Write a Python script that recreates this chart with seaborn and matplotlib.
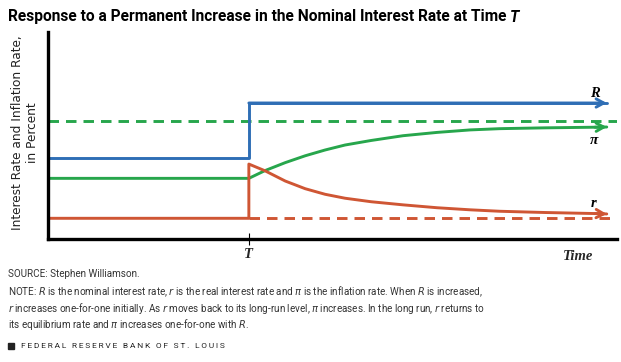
import numpy as np
import pandas as pd
import matplotlib
matplotlib.use("Agg")
import matplotlib.pyplot as plt
import seaborn as sns

# ---- data ----
T = 35.3
t_end = 98.2
R_time = [0, T, T, t_end]
R_vals = [3.92, 3.92, 6.57, 6.57]

pi_time = [0, T, 38.1, 41.7, 45.2, 48.7, 52.2, 56.8, 62.4, 68.4, 74.2, 79.4, 87.3, 96.1, 98.2]
pi_vals = [2.93, 2.93, 3.30, 3.69, 4.02, 4.30, 4.54, 4.76, 4.99, 5.15, 5.27, 5.33, 5.37, 5.40, 5.41]

r_time = [0, T, T, 38.1, 41.7, 45.2, 48.7, 52.2, 56.8, 62.4, 68.4, 74.2, 79.4, 87.3, 96.1, 98.2]
r_vals = [1.0, 1.0, 3.62, 3.30, 2.80, 2.43, 2.16, 1.97, 1.80, 1.65, 1.51, 1.41, 1.34, 1.28, 1.23, 1.21]

pi_long_time = [0, 100]
pi_long_vals = [5.68, 5.68]
r_long_time = [T, 100]
r_long_vals = [1.0, 1.0]

title = "Response to a Permanent Increase in the Nominal Interest Rate at Time "
ylabel = "Interest Rate and Inflation Rate,\nin Percent"

BLUE = "#2F6EB5"
GREEN = "#27A64C"
RED = "#CF5634"

sns.set_style("white")
plt.rcParams["font.family"] = ["DejaVu Sans"]

fig = plt.figure(figsize=(6.21, 3.62), dpi=100)
ax = fig.add_axes([48/621, 1-239/362, (617-48)/621, (239-32)/362])

lw = 2.1
def series(t, v):
    return pd.DataFrame({"t": t, "v": v})

sns.lineplot(data=series(pi_long_time, pi_long_vals), x="t", y="v", ax=ax, color=GREEN,
             lw=lw, estimator=None, sort=False, linestyle=(0, (3.6, 2.4)))
sns.lineplot(data=series(r_long_time, r_long_vals), x="t", y="v", ax=ax, color=RED,
             lw=lw, estimator=None, sort=False, linestyle=(0, (3.6, 2.4)))
sns.lineplot(data=series(R_time, R_vals), x="t", y="v", ax=ax, color=BLUE, lw=lw,
             estimator=None, sort=False)
sns.lineplot(data=series(pi_time, pi_vals), x="t", y="v", ax=ax, color=GREEN, lw=lw,
             estimator=None, sort=False)
sns.lineplot(data=series(r_time, r_vals), x="t", y="v", ax=ax, color=RED, lw=lw,
             estimator=None, sort=False)

# arrowheads
for tt, vv, c in [(R_time, R_vals, BLUE), (pi_time, pi_vals, GREEN), (r_time, r_vals, RED)]:
    ax.annotate("", xy=(tt[-1], vv[-1]), xytext=(tt[-2], vv[-2]),
                arrowprops=dict(arrowstyle="->,head_length=0.55,head_width=0.3",
                                color=c, lw=lw, shrinkA=0, shrinkB=0))

ax.set_xlim(0, 100)
ax.set_ylim(0, 10)
ax.set_xlabel("")
ax.set_ylabel("")
for s in ["top", "right"]:
    ax.spines[s].set_visible(False)
for s in ["left", "bottom"]:
    ax.spines[s].set_color("black")
    ax.spines[s].set_linewidth(2.4)
ax.set_yticks([])
ax.set_xticks([T])
ax.set_xticklabels([""])
ax.tick_params(axis="x", direction="inout", length=9, width=0.8, color="black", bottom=True)

serif = dict(family=["Liberation Serif", "DejaVu Serif"], style="italic", weight="bold")
ax.text(96.2, 7.05, "R", ha="center", va="center", fontsize=10.5, color="black", **serif)
ax.text(96.0, 4.75, "π", ha="center", va="center", fontsize=11, color="black", **serif)
ax.text(95.8, 1.70, "r", ha="center", va="center", fontsize=10.5, color="black", **serif)
fig.text(248/621, 1-255/362, "T", ha="center", va="center", fontsize=10.5, **serif)
fig.text(578/621, 1-257/362, "Time", ha="center", va="center", fontsize=10.5, **serif)

# y label
fig.text(25/621, 1-133/362, ylabel, rotation=90, ha="center", va="center",
         fontsize=8.7, color="#222222", linespacing=1.15, family=["DejaVu Sans"])

# title
sansf = ["Roboto", "DejaVu Sans"]
t1 = fig.text(8/621, 1-17/362, title, ha="left", va="center", fontsize=11.2,
              weight="bold", family=sansf, color="black")
fig.canvas.draw()
bb = t1.get_window_extent()
fig.text(bb.x1/621, 1-17/362, "T", ha="left", va="center", fontsize=11.2,
         weight="bold", style="italic", family=sansf, color="black")

# footer
fs = 7.1
col = "#333333"
fig.text(8/621, 1-274/362, "SOURCE: Stephen Williamson.", fontsize=fs, family=sansf,
         color=col, va="center")
fig.text(8/621, 1-292/362,
         "NOTE: $\\mathit{R}$ is the nominal interest rate, $\\mathit{r}$ is the real interest rate and $\\mathit{\\pi}$ is the inflation rate. When $\\mathit{R}$ is increased,",
         fontsize=fs, family=sansf, color=col, va="center")
fig.text(8/621, 1-308/362,
         "$\\mathit{r}$ increases one-for-one initially. As $\\mathit{r}$ moves back to its long-run level, $\\mathit{\\pi}$ increases. In the long run, $\\mathit{r}$ returns to",
         fontsize=fs, family=sansf, color=col, va="center")
fig.text(8/621, 1-324/362,
         "its equilibrium rate and $\\mathit{\\pi}$ increases one-for-one with $\\mathit{R}$.",
         fontsize=fs, family=sansf, color=col, va="center")

fig.patches.append(matplotlib.patches.Rectangle((8/621, 1-349/362), 6/621, 6/362,
                   transform=fig.transFigure, color="#222222"))
fig.text(21/621, 1-346/362, "\u2009".join("FEDERAL RESERVE BANK OF ST. LOUIS"),
         fontsize=6.0, family=sansf, color="#222222", va="center")

fig.savefig("out.png", dpi=100)
